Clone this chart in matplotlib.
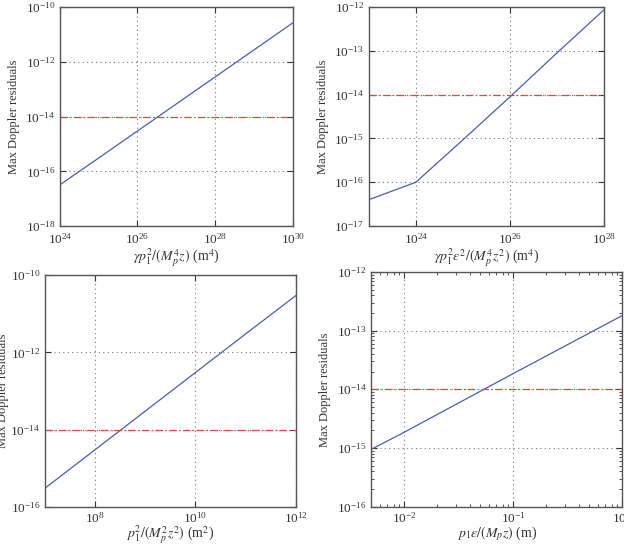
import numpy as np
import matplotlib
matplotlib.use('Agg')
import matplotlib.pyplot as plt

plt.rcParams['font.family'] = ['Liberation Serif', 'DejaVu Serif']
plt.rcParams['mathtext.fontset'] = 'stix'

# values (log-log)
x_a = [1e24, 1e25, 1e26, 1e27, 1e28, 1e29, 1e30]
y_a = [3.2e-17, 3.07e-16, 2.97e-15, 2.88e-14, 2.8e-13, 2.71e-12, 2.63e-11]

x_b = [1e23, 1e24, 1e25, 1e26, 1e27, 1e28]
y_b = [4.0e-17, 1.0e-16, 9.3e-16, 8.9e-15, 9.0e-14, 8.7e-13]

x_c = [1e7, 1e8, 1e9, 1e10, 1e11, 1e12]
y_c = [3.0e-16, 3.0e-15, 3.0e-14, 3.0e-13, 3.0e-12, 2.95e-11]

x_d = [5e-3, 1e-2, 1e-1, 1e0]
y_d = [9.5e-16, 1.85e-15, 1.85e-14, 1.8e-13]

threshold = 1e-14

panels = [
    dict(x=x_a, y=y_a, xlim=(1e24, 1e30), ylim=(1e-18, 1e-10),
         xt=[1e24, 1e26, 1e28, 1e30], yt=[1e-18, 1e-16, 1e-14, 1e-12, 1e-10],
         xl=r'$\gamma p_1^2/(M_p^4 z)$ (m$^4$)', minor=False,
         rect=[0.096, 0.586, 0.373, 0.401], pad=4, lpad=0, ylpad=4),
    dict(x=x_b, y=y_b, xlim=(1e23, 1e28), ylim=(1e-17, 1e-12),
         xt=[1e24, 1e26, 1e28], yt=[1e-17, 1e-16, 1e-15, 1e-14, 1e-13, 1e-12],
         xl=r'$\gamma p_1^2 \varepsilon^2/(M_p^4 z^2)$ (m$^4$)', minor=False,
         rect=[0.591, 0.586, 0.377, 0.401], pad=4, lpad=0, ylpad=4),
    dict(x=x_c, y=y_c, xlim=(1e7, 1e12), ylim=(1e-16, 1e-10),
         xt=[1e8, 1e10, 1e12], yt=[1e-16, 1e-14, 1e-12, 1e-10],
         xl=r'$p_1^2/(M_p^2 z^2)$ (m$^2$)', minor=False,
         rect=[0.072, 0.072, 0.402, 0.424], pad=3, lpad=-1, ylpad=1),
    dict(x=x_d, y=y_d, xlim=(5e-3, 1e0), ylim=(1e-16, 1e-12),
         xt=[1e-2, 1e-1, 1e0], yt=[1e-16, 1e-15, 1e-14, 1e-13, 1e-12],
         xl=r'$p_1 \varepsilon/(M_p z)$ (m)', minor=True,
         rect=[0.595, 0.072, 0.402, 0.430], pad=3, lpad=-1, ylpad=4),
]

fig = plt.figure(figsize=(6.24, 5.46), dpi=100)

for p in panels:
    ax = fig.add_axes(p['rect'])
    ax.set_xscale('log')
    ax.set_yscale('log')
    ax.plot(p['x'], p['y'], color='#4a5cb0', lw=0.9)
    ax.axhline(threshold, color='#e8443a', lw=0.9, ls=(0, (6, 2, 1, 2)))
    ax.set_xlim(p['xlim'])
    ax.set_ylim(p['ylim'])
    ax.set_xticks(p['xt'])
    ax.set_yticks(p['yt'])
    if not p['minor']:
        ax.minorticks_off()
    ax.grid(True, which='major', color='#777777', ls=(0, (1, 3)), lw=0.8)
    ax.tick_params(which='both', direction='in', top=True, right=True,
                   labelsize=9.5, colors='#333333')
    ax.tick_params(axis='x', pad=p['pad'])
    ax.tick_params(which='major', length=4)
    ax.tick_params(which='minor', length=2)
    for s in ax.spines.values():
        s.set_color('#555555')
        s.set_linewidth(1.0)
    ax.set_xlabel(p['xl'], fontsize=10, color='#333333', labelpad=p['lpad'])
    ax.set_ylabel('Max Doppler residuals', fontsize=9, color='#333333',
                  labelpad=p['ylpad'])

fig.savefig('out.png', dpi=100)
